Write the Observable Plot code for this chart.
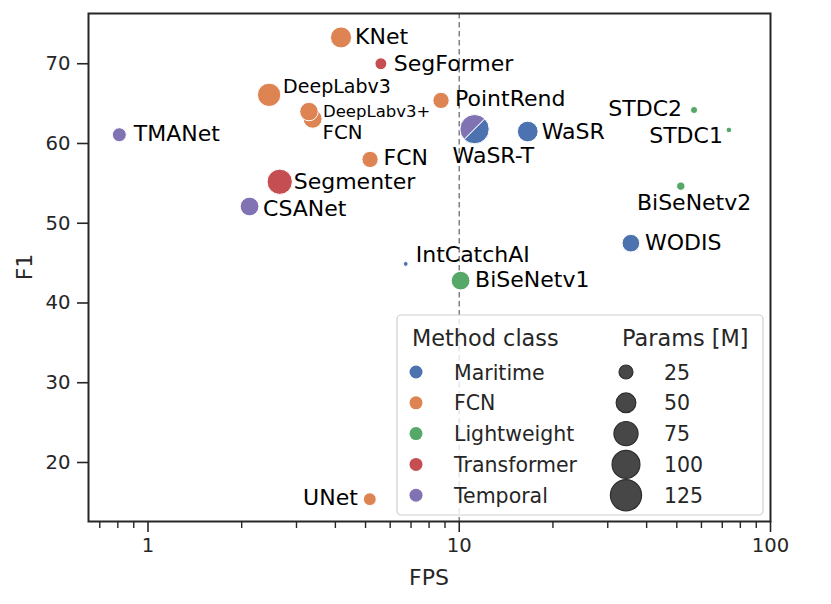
<!DOCTYPE html>
<html><head><meta charset="utf-8">
<script src="https://cdn.jsdelivr.net/npm/d3@7"></script>
<script src="https://cdn.jsdelivr.net/npm/@observablehq/plot@0.6"></script>
<style>
body{margin:0;background:#fff;}
#chart svg{display:block;}
</style></head><body><div id="chart"></div>
<script>
// ---- data ----
const methods = ["KNet","SegFormer","DeepLabv3","FCN","DeepLabv3+","PointRend","TMANet","WaSR-T","WaSR","STDC2","STDC1","FCN","Segmenter","CSANet","BiSeNetv2","WODIS","IntCatchAI","BiSeNetv1","UNet"];
const fps    = [4.17, 5.6, 2.45, 3.38, 3.29, 8.74, 0.809, 11.2, 16.6, 56.8, 73.5, 5.17, 2.65, 2.12, 51.5, 35.6, 6.73, 10.1, 5.16];
const f1     = [73.3, 70.0, 66.1, 63.1, 64.0, 65.4, 61.1, 61.8, 61.5, 64.2, 61.7, 58.0, 55.2, 52.1, 54.65, 47.5, 44.9, 42.8, 15.4];
const params = [57, 18, 70, 46, 44, 34, 25, 110, 55, 6.5, 4, 34, 82, 45, 9, 40, 3, 45, 21];
const methodClass = ["FCN","Transformer","FCN","FCN","FCN","FCN","Temporal","Temporal+Maritime","Maritime","Lightweight","Lightweight","FCN","Transformer","Temporal","Lightweight","Maritime","Maritime","Lightweight","FCN"];

const classes = ["Maritime","FCN","Lightweight","Transformer","Temporal"];
const classColors = ["#4C72B0","#DD8452","#55A868","#C44E52","#8172B3"];
const sizeTicks = [25, 50, 75, 100, 125];
const yTicks = [20, 30, 40, 50, 60, 70];
const xMajor = [1, 10, 100];
const xMinor = [0.7,0.8,0.9,2,3,4,5,6,7,8,9,20,30,40,50,60,70,80,90];

// annotation layout (offset in px from the point, anchor, font size)
const labelDx     = [14, 13, 14, 10, 14, 14, 14.5, -22, 14, -12, -6, 13.5, 14, 13.5, 13.3, 14, 10, 14.5, -12];
const labelDy     = [0, 0, -8, 13.5, 0, -1, -1, 27, 0, -1, 6, -1, 0, 2, 17, 0, -9, -1, -1];
const labelAnchor = ["start","start","start","start","start","start","start","start","start","end","end","start","start","start","middle","start","start","start","end"];
const labelSize   = [22, 22, 19, 19.8, 16.5, 22, 22, 22, 22, 22, 22, 22, 22, 22, 22, 22, 22, 22, 22];

const rows = methods.map((m, i) => ({name: m, fps: fps[i], f1: f1[i], params: params[i], cls: methodClass[i], i}));
const single = rows.filter(d => !d.cls.includes("+"));
const split = rows.filter(d => d.cls.includes("+"));
const splitA = split.map(d => ({...d, cls: d.cls.split("+")[0]}));
const splitB = split.map(d => ({...d, cls: d.cls.split("+")[1]}));

// half-circle symbols, divided along the lower-left -> upper-right diagonal
const halfUpper = {draw(ctx, size){ const r = Math.sqrt(size/Math.PI); ctx.moveTo(r*Math.cos(3*Math.PI/4), r*Math.sin(3*Math.PI/4)); ctx.arc(0,0,r,3*Math.PI/4, 7*Math.PI/4); ctx.closePath(); }};
const halfLower = {draw(ctx, size){ const r = Math.sqrt(size/Math.PI); ctx.moveTo(r*Math.cos(-Math.PI/4), r*Math.sin(-Math.PI/4)); ctx.arc(0,0,r,-Math.PI/4, 3*Math.PI/4); ctx.closePath(); }};

const W = 831, H = 604;
const mL = 88, mR = 61, mT = 13, mB = 83;

const labelMarks = rows.map(d => Plot.text([d], {
  x: "fps", y: "f1", text: "name",
  dx: labelDx[d.i], dy: labelDy[d.i], textAnchor: labelAnchor[d.i],
  fontSize: labelSize[d.i], fill: "black"
}));

const plot = Plot.plot({
  width: W, height: H,
  marginLeft: mL, marginRight: mR, marginTop: mT, marginBottom: mB,
  style: {fontFamily: "DejaVu Sans", fontSize: "19.6px", color: "#262626", background: "white"},
  x: {type: "log", domain: [0.644, 100]},
  y: {domain: [12.6, 76.3]},
  r: {type: "sqrt", domain: [0, 125], range: [0, 15.6]},
  color: {domain: classes, range: classColors},
  marks: [
    Plot.ruleX([10], {stroke: "#808080", strokeWidth: 1.5, strokeDasharray: "5.5,3.5"}),
    Plot.dot(single, {x: "fps", y: "f1", r: "params", fill: "cls", stroke: "white", strokeWidth: 1, fillOpacity: 1}),
    Plot.dot(splitA, {x: "fps", y: "f1", r: "params", fill: "cls", stroke: "white", strokeWidth: 1, symbol: () => halfUpper}),
    Plot.dot(splitB, {x: "fps", y: "f1", r: "params", fill: "cls", stroke: "white", strokeWidth: 1, symbol: () => halfLower}),
    ...labelMarks,
    Plot.axisY({ticks: yTicks, tickSize: 11, tickPadding: 7, strokeWidth: 1.6, label: null, fontSize: 19.6}),
    Plot.axisX({ticks: xMajor, tickFormat: d => String(d), tickSize: 11, tickPadding: 6, strokeWidth: 1.6, label: null, fontSize: 19.6}),
    Plot.axisX({ticks: xMinor, tickFormat: () => "", tickSize: 7, strokeWidth: 1.4, label: null}),
    Plot.frame({stroke: "#262626", strokeWidth: 2})
  ]
});

document.getElementById("chart").appendChild(plot);

// ---- axis titles and legend (appended to the same SVG) ----
const svg = d3.select(plot);
const plotRight = W - mR, plotBottom = H - mB;
svg.append("text").attr("x", (mL + plotRight)/2).attr("y", 585)
  .attr("text-anchor", "middle").attr("font-size", 22).attr("fill", "#262626")
  .attr("font-family", "DejaVu Sans").text("FPS");
svg.append("text").attr("transform", `translate(32,${(mT + plotBottom)/2}) rotate(-90)`)
  .attr("text-anchor", "middle").attr("font-size", 22).attr("fill", "#262626")
  .attr("font-family", "DejaVu Sans").text("F1");

const rScale = plot.scale("r");
const lgW = 366, lgH = 200;
const x0 = plotRight - 7 - lgW, y0 = plotBottom - 6 - lgH;
const lg = svg.append("g").attr("font-family", "DejaVu Sans").attr("fill", "#262626").attr("text-anchor", "start");
lg.append("rect").attr("x", x0).attr("y", y0).attr("width", lgW).attr("height", lgH)
  .attr("rx", 4).attr("fill", "white").attr("fill-opacity", 0.8)
  .attr("stroke", "#d0d0d0").attr("stroke-width", 1.2);
lg.append("text").attr("x", x0 + 15).attr("y", y0 + 31).attr("font-size", 22.4).attr("text-anchor", "start").text("Method class");
lg.append("text").attr("x", x0 + 225).attr("y", y0 + 31).attr("font-size", 22.4).attr("text-anchor", "start").text("Params [M]");
classes.forEach((c, i) => {
  const cy = y0 + 57 + i * 30.8;
  lg.append("circle").attr("cx", x0 + 19).attr("cy", cy).attr("r", 6.5).attr("fill", classColors[i]);
  lg.append("text").attr("x", x0 + 57).attr("y", cy + 7.5).attr("font-size", 20.5).attr("text-anchor", "start").text(c);
});
sizeTicks.forEach((s, i) => {
  const cy = y0 + 57 + i * 30.8;
  lg.append("circle").attr("cx", x0 + 229).attr("cy", cy).attr("r", rScale.apply(s))
    .attr("fill", "#474747").attr("stroke", "#2e2e2e").attr("stroke-width", 1.2);
  lg.append("text").attr("x", x0 + 267).attr("y", cy + 7.5).attr("font-size", 20.5).attr("text-anchor", "start").text(String(s));
});
</script>
</body></html>
